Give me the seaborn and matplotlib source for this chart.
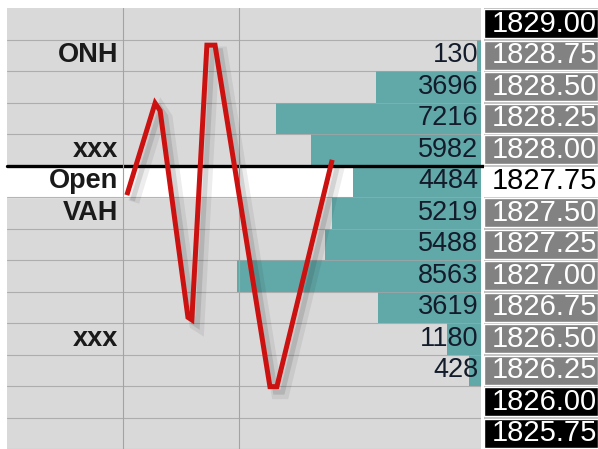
import pandas as pd
import matplotlib.pyplot as plt
import matplotlib.patheffects as pe
import seaborn as sns

# price ladder, top to bottom
prices = ['1829.00', '1828.75', '1828.50', '1828.25', '1828.00', '1827.75', '1827.50',
          '1827.25', '1827.00', '1826.75', '1826.50', '1826.25', '1826.00', '1825.75']
volumes = [0, 130, 3696, 7216, 5982, 4484, 5219, 5488, 8563, 3619, 1180, 428, 0, 0]
price_style = ['black', 'gray', 'gray', 'gray', 'gray', 'white', 'gray',
               'gray', 'gray', 'gray', 'gray', 'gray', 'black', 'black']

# reference labels on the left
level_names = ['ONH', 'xxx', 'Open', 'VAH', 'xxx']
level_prices = ['1828.75', '1828.00', '1827.75', '1827.50', '1826.50']

# hand drawn price path (minutes into session, price)
line_minutes = [31.0, 38.3, 39.6, 46.8, 47.8, 51.7, 53.8, 68.0, 69.8, 84.1]
line_prices = [1827.64, 1828.37, 1828.31, 1826.67, 1826.65, 1828.83, 1828.83,
               1826.12, 1826.12, 1827.92]

TEAL = '#61a9a9'
BG = '#d9d9d9'
GRID = '#a3a3a3'
TICK = 0.25
top_price = float(prices[0])

sns.set_theme(style='white')
plt.rcParams['font.family'] = ['Liberation Sans', 'DejaVu Sans']

W, H = 598, 449
fig = plt.figure(figsize=(W / 100, H / 100), dpi=100)
fig.patch.set_facecolor('white')
ax = fig.add_axes([7 / W, 0, 474 / W, 441 / H])
ax_p = fig.add_axes([484 / W, 0, 114 / W, 441 / H])

df = pd.DataFrame({'price': prices, 'volume': volumes})
sns.barplot(data=df, x='volume', y='price', order=prices, orient='h',
            color=TEAL, saturation=1, width=1.0, ax=ax, zorder=2,
            linewidth=0, edgecolor='none')
n = len(prices)
ax.set_facecolor(BG)
ax.set_xlim(16650, 0)
ax.set_ylim(n - 0.5, -0.5)

# white "Open" row
open_row = prices.index('1827.75')
ax.axhspan(open_row - 0.5, open_row + 0.5, color='white', zorder=0.5)

for i in range(n):
    ax.axhline(i + 0.5, color=GRID, lw=0.8, alpha=0.8, zorder=3)
    if volumes[i] > 0:
        ax.text(100, i, str(volumes[i]), ha='right', va='center',
                fontsize=19.5, color='#141c2c', zorder=5)

# time axis for the line and columns
ax_t = ax.twiny()
ax_t.set_xlim(0, 474 / 116 * 30)
ax_t.set_ylim(n - 0.5, -0.5)
for m in [30, 60]:
    ax_t.axvline(m, color=GRID, lw=0.8, zorder=1)

for name, p in zip(level_names, level_prices):
    ax_t.text(28.7, prices.index(p), name, ha='right', va='center',
              fontsize=19.5, fontweight='bold', color='#1a1a1a')

line_rows = [(top_price - float(p)) / TICK for p in line_prices]
ax_t.plot(line_minutes, line_rows, color='#cc1111', lw=3.6, solid_joinstyle='miter',
          solid_capstyle='butt', zorder=6,
          path_effects=[pe.SimpleLineShadow(offset=(5, -5), shadow_color='k', alpha=0.08, linewidth=8),
                        pe.SimpleLineShadow(offset=(4, -4), shadow_color='k', alpha=0.12),
                        pe.Normal()])

# thick separator line across everything
ax.axhline(open_row - 0.5, xmin=0, xmax=(W - 7) / 474, color='black', lw=2.4,
           zorder=7, clip_on=False)

# price column
cell_colors = {'black': 'black', 'gray': '#828282', 'white': 'white'}
text_colors = {'black': 'white', 'gray': 'white', 'white': 'black'}
ax_p.set_facecolor('#b8b8b8')
ax_p.set_xlim(0, 1)
ax_p.set_ylim(n - 0.5, -0.5)
ax_p.barh(range(n), [1] * n, height=0.93, left=0,
          color=[cell_colors[s] for s in price_style], zorder=2)
for i, p in enumerate(prices):
    ax_p.text(0.99, i, p, ha='right', va='center', fontsize=21,
              color=text_colors[price_style[i]], zorder=3)

for a in [ax, ax_t, ax_p]:
    a.set_xticks([])
    a.set_yticks([])
    a.set_xlabel('')
    a.set_ylabel('')
    for s in a.spines.values():
        s.set_visible(False)

fig.savefig('out.png', dpi=100)
